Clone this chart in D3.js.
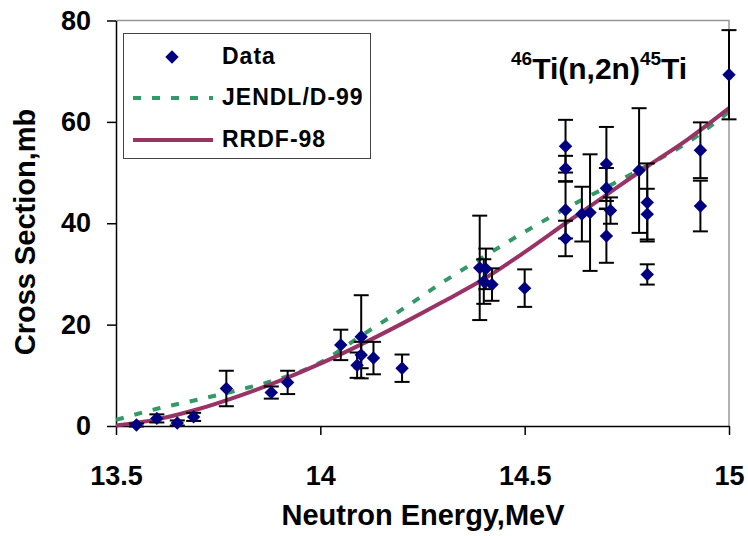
<!DOCTYPE html>
<html>
<head>
<meta charset="utf-8">
<script src="https://cdnjs.cloudflare.com/ajax/libs/d3/7.8.5/d3.min.js"></script>
<style>
    body { margin: 0; background: #ffffff; }
    text { font-family: "Liberation Sans", Arial, sans-serif; font-weight: bold; }
</style>
</head>
<body>
<div id="canvas"></div>
<script>
"use strict"

/* Chart data */

// measured points: energy (MeV), cross section (mb), error (mb)
let dataEnergy = [13.55, 13.60, 13.65, 13.69, 13.77, 13.88, 13.92, 14.05, 14.10, 14.10,
                  14.09, 14.13, 14.20, 14.39, 14.40, 14.405, 14.42, 14.50, 14.60, 14.60,
                  14.60, 14.60, 14.64, 14.66, 14.70, 14.70, 14.71, 14.70, 14.78, 14.80,
                  14.80, 14.80, 14.93, 14.93, 15.00];
let dataValue = [0.2, 1.5, 0.6, 1.8, 7.4, 6.6, 8.6, 16.0, 17.6, 14.0,
                 12.0, 13.4, 11.4, 31.2, 28.5, 31.0, 27.9, 27.2, 55.2, 50.8,
                 42.6, 37.0, 41.8, 42.1, 51.7, 46.9, 42.5, 37.5, 50.4, 44.1,
                 41.8, 29.9, 54.4, 43.4, 69.3];
let dataError = [0.3, 0.8, 0.5, 0.8, 3.5, 1.2, 2.3, 3.0, 8.2, 2.6,
                 2.5, 3.2, 2.7, 10.3, 4.4, 4.0, 3.2, 3.7, 5.2, 2.5,
                 5.6, 3.5, 5.4, 11.5, 7.3, 4.0, 2.6, 5.3, 12.3, 7.7,
                 5.0, 2.0, 5.5, 5.0, 8.8];

// evaluated curves
let modelEnergy = [13.5, 13.6, 13.7, 13.8, 13.9, 14.0, 14.1, 14.2, 14.3, 14.4, 14.5, 14.6, 14.7, 14.8, 14.9, 15.0];
let rrdfValues  = [0.1, 1.3, 3.3, 5.9, 8.9, 12.3, 16.1, 20.2, 24.5, 29.0, 34.3, 40.0, 45.6, 51.2, 56.6, 62.7];
let jendlValues = [1.2, 3.4, 5.2, 7.1, 9.3, 12.5, 17.8, 23.0, 28.4, 33.4, 38.3, 42.9, 47.1, 51.4, 56.0, 62.0];

// axes
let xTicks = [13.5, 14, 14.5, 15];
let xTickLabels = ["13.5", "14", "14.5", "15"];
let yTicks = [0, 20, 40, 60, 80];

let legendNames = ["Data", "JENDL/D-99", "RRDF-98"];

/* Layout */
let svgWidth = 748;
let svgHeight = 536;
let plot = { left: 116, right: 729, top: 20.5, bottom: 426 };

let markColor = "#000080";
let jendlColor = "#339966";
let rrdfColor = "#993366";

let svg = d3.select("#canvas")
    .append("svg")
    .attr("width", svgWidth)
    .attr("height", svgHeight);

let xScale = d3.scaleLinear()
    .domain([13.5, 15])
    .range([plot.left, plot.right]);

let yScale = d3.scaleLinear()
    .domain([0, 80])
    .range([plot.bottom, plot.top]);

// plot area frame (grey top and right edge)
svg.append("path")
    .attr("d", "M" + plot.left + "," + plot.top + "H" + plot.right + "V" + plot.bottom)
    .attr("fill", "none")
    .attr("stroke", "#999999")
    .attr("stroke-width", 1.5);

// axes
let xAxis = d3.axisBottom(xScale)
    .tickValues(xTicks)
    .tickFormat(function(d, i) { return xTickLabels[i]; })
    .tickSize(9)
    .tickSizeOuter(0)
    .tickPadding(31);

let yAxis = d3.axisLeft(yScale)
    .tickValues(yTicks)
    .tickSize(9)
    .tickSizeOuter(0)
    .tickPadding(16);

let gx = svg.append("g")
    .attr("transform", "translate(0," + plot.bottom + ")")
    .call(xAxis);

let gy = svg.append("g")
    .attr("transform", "translate(" + plot.left + ",0)")
    .call(yAxis);

[gx, gy].forEach(function(g) {
    g.select(".domain").attr("stroke", "#000").attr("stroke-width", 1.5);
    g.selectAll(".tick line").attr("stroke", "#000").attr("stroke-width", 1.5);
    g.selectAll(".tick text")
        .attr("fill", "#000")
        .style("font-size", "27px")
        .style("font-family", "'Liberation Sans', Arial, sans-serif")
        .style("font-weight", "bold");
});

// axis titles
svg.append("text")
    .attr("x", 423)
    .attr("y", 525)
    .attr("text-anchor", "middle")
    .style("font-size", "29px")
    .text("Neutron Energy,MeV");

svg.append("text")
    .attr("transform", "translate(35,232) rotate(-90)")
    .attr("text-anchor", "middle")
    .style("font-size", "29px")
    .text("Cross Section,mb");

// reaction label with superscript mass numbers
let title = svg.append("text")
    .attr("x", 511)
    .attr("y", 79)
    .style("font-size", "30px");
title.append("tspan").attr("dy", -14).style("font-size", "19px").text("46");
title.append("tspan").attr("dy", 14).text("Ti(n,2n)");
title.append("tspan").attr("dy", -14).style("font-size", "19px").text("45");
title.append("tspan").attr("dy", 14).text("Ti");

// model curves
let lineGen = d3.line()
    .x(function(d) { return xScale(d[0]); })
    .y(function(d) { return yScale(d[1]); })
    .curve(d3.curveMonotoneX);

svg.append("path")
    .datum(d3.zip(modelEnergy, jendlValues))
    .attr("d", lineGen)
    .attr("fill", "none")
    .attr("stroke", jendlColor)
    .attr("stroke-width", 4)
    .attr("stroke-dasharray", "8,11");

svg.append("path")
    .datum(d3.zip(modelEnergy, rrdfValues))
    .attr("d", lineGen)
    .attr("fill", "none")
    .attr("stroke", rrdfColor)
    .attr("stroke-width", 4);

// error bars
let points = d3.range(dataEnergy.length).map(function(i) {
    return { e: dataEnergy[i], v: dataValue[i], err: dataError[i] };
});

let bars = svg.append("g")
    .attr("stroke", "#000")
    .attr("stroke-width", 2)
    .selectAll("g")
    .data(points)
    .join("g");

bars.append("line")
    .attr("x1", function(d) { return xScale(d.e); })
    .attr("x2", function(d) { return xScale(d.e); })
    .attr("y1", function(d) { return yScale(d.v - d.err); })
    .attr("y2", function(d) { return yScale(d.v + d.err); });

[-1, 1].forEach(function(sign) {
    bars.append("line")
        .attr("x1", function(d) { return xScale(d.e) - 7.5; })
        .attr("x2", function(d) { return xScale(d.e) + 7.5; })
        .attr("y1", function(d) { return yScale(d.v + sign * d.err); })
        .attr("y2", function(d) { return yScale(d.v + sign * d.err); });
});

// diamond markers
let diamond = d3.symbol().type(d3.symbolSquare).size(90);

svg.append("g")
    .selectAll("path")
    .data(points)
    .join("path")
    .attr("d", diamond)
    .attr("transform", function(d) {
        return "translate(" + xScale(d.e) + "," + yScale(d.v) + ") rotate(45)";
    })
    .attr("fill", markColor);

// legend
svg.append("rect")
    .attr("x", 123.5)
    .attr("y", 33.5)
    .attr("width", 247)
    .attr("height", 125)
    .attr("fill", "#fff")
    .attr("stroke", "#444")
    .attr("stroke-width", 1);

let legendRows = [57, 98, 140];

svg.append("path")
    .attr("d", diamond)
    .attr("transform", "translate(172," + legendRows[0] + ") rotate(45)")
    .attr("fill", markColor);

svg.append("line")
    .attr("x1", 133).attr("x2", 213)
    .attr("y1", legendRows[1]).attr("y2", legendRows[1])
    .attr("stroke", jendlColor)
    .attr("stroke-width", 4)
    .attr("stroke-dasharray", "8,11");

svg.append("line")
    .attr("x1", 133).attr("x2", 213)
    .attr("y1", legendRows[2]).attr("y2", legendRows[2])
    .attr("stroke", rrdfColor)
    .attr("stroke-width", 4);

for (let i = 0; i < legendNames.length; i++) {
    svg.append("text")
        .attr("x", 222)
        .attr("y", legendRows[i] + 7)
        .style("font-size", "23px")
        .style("letter-spacing", "1px")
        .text(legendNames[i]);
}
</script>
</body>
</html>
